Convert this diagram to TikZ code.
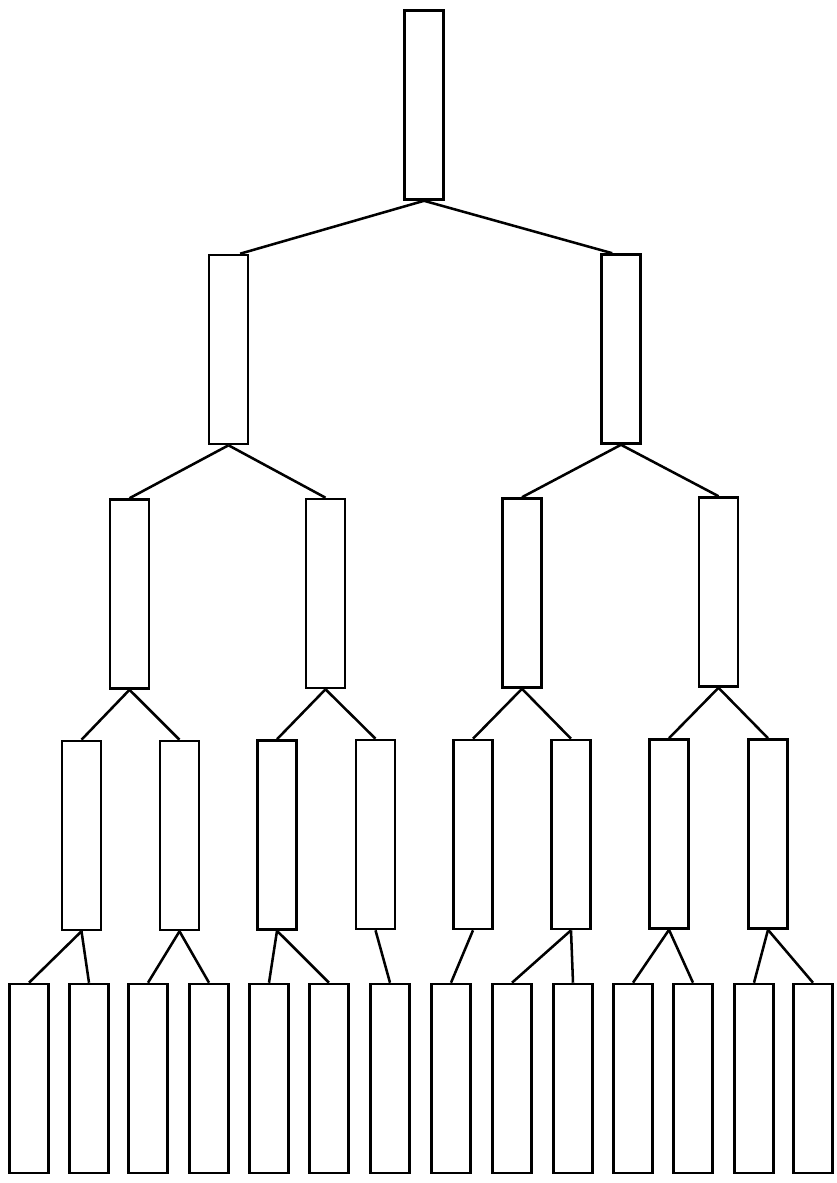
\documentclass[tikz,border=0pt]{standalone}
\tikzset{
  cell/.style={draw, rectangle, inner sep=0pt, minimum width=0.975cm, minimum height=4.725cm, line width=1.8pt},
}
\begin{document}
\begin{tikzpicture}[x=0.025cm, y=-0.025cm, line width=1.8pt]
  \useasboundingbox (0,0) rectangle (836,1183);
  \draw
    (424.0,105.0) node[cell] (n){}
    (228.5,349.5) node[cell] (n1){}
    (621.0,349.0) node[cell] (n2){}
    (129.5,594.0) node[cell] (n11){}
    (325.5,593.5) node[cell] (n12){}
    (522.0,593.0) node[cell] (n21){}
    (718.5,592.0) node[cell] (n22){}
    (81.5,835.5) node[cell] (n111){}
    (179.5,835.5) node[cell] (n112){}
    (277.0,835.0) node[cell] (n121){}
    (375.5,834.5) node[cell] (n122){}
    (473.0,834.5) node[cell] (n211){}
    (571.0,834.5) node[cell] (n212){}
    (669.0,834.0) node[cell] (n221){}
    (768.0,834.0) node[cell] (n222){}
    (29.0,1078.5) node[cell] (n1111){}
    (89.0,1078.5) node[cell] (n1112){}
    (148.0,1078.5) node[cell] (n1121){}
    (209.0,1078.5) node[cell] (n1122){}
    (269.0,1078.5) node[cell] (n1211){}
    (329.0,1078.5) node[cell] (n1212){}
    (390.0,1078.5) node[cell] (n1221){}
    (451.0,1078.5) node[cell] (n2111){}
    (512.0,1078.5) node[cell] (n2121){}
    (573.0,1078.5) node[cell] (n2122){}
    (633.0,1078.5) node[cell] (n2211){}
    (693.0,1078.5) node[cell] (n2212){}
    (754.0,1078.5) node[cell] (n2221){}
    (813.0,1078.5) node[cell] (n2222){};
  \begin{scope}[-]
    \draw (n.south) to ([xshift=0.29cm]n1.north);
    \draw (n.south) to ([xshift=-0.22cm]n2.north);
    \draw (n1.south) to (n11.north);
    \draw (n1.south) to (n12.north);
    \draw (n2.south) to (n21.north);
    \draw (n2.south) to (n22.north);
    \draw (n11.south) to (n111.north);
    \draw (n11.south) to (n112.north);
    \draw (n12.south) to (n121.north);
    \draw (n12.south) to (n122.north);
    \draw (n21.south) to (n211.north);
    \draw (n21.south) to (n212.north);
    \draw (n22.south) to (n221.north);
    \draw (n22.south) to (n222.north);
    \draw (n111.south) to (n1111.north);
    \draw (n111.south) to (n1112.north);
    \draw (n112.south) to (n1121.north);
    \draw (n112.south) to (n1122.north);
    \draw (n121.south) to (n1211.north);
    \draw (n121.south) to (n1212.north);
    \draw (n122.south) to (n1221.north);
    \draw (n211.south) to (n2111.north);
    \draw (n212.south) to (n2121.north);
    \draw (n212.south) to (n2122.north);
    \draw (n221.south) to (n2211.north);
    \draw (n221.south) to (n2212.north);
    \draw (n222.south) to (n2221.north);
    \draw (n222.south) to (n2222.north);
  \end{scope}
\end{tikzpicture}
\end{document}
